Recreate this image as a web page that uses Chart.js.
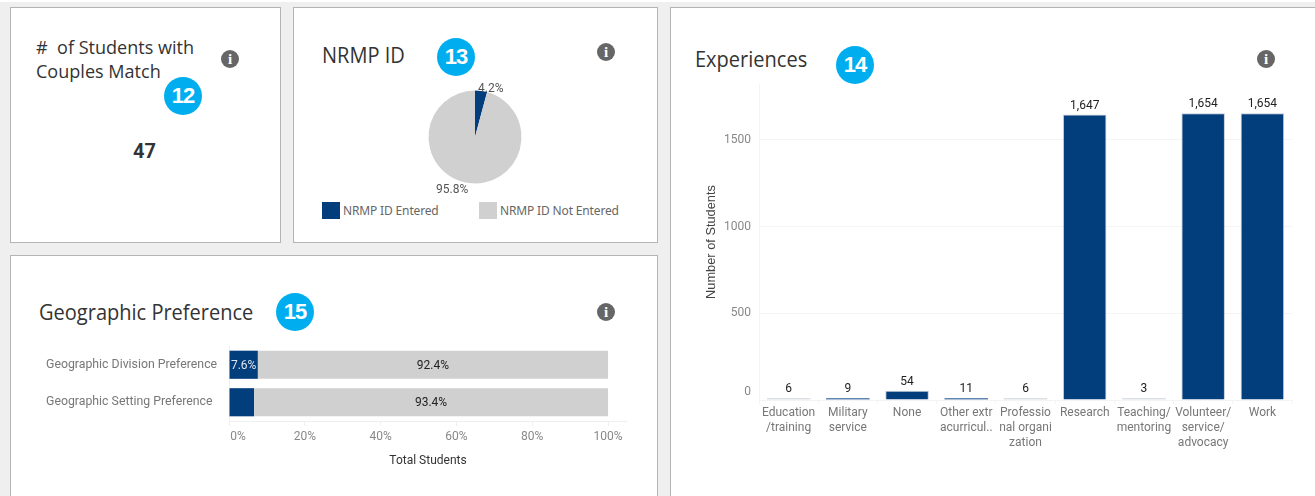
<!DOCTYPE html>
<html>
<head>
<meta charset="utf-8">
<script src="https://cdn.jsdelivr.net/npm/chart.js@4"></script>
<style>
  html, body { margin: 0; padding: 0; background: #fff; }
  #page { position: absolute; left: 0; top: 2px; width: 1315px; height: 494px; background: #efefef; overflow: hidden; }
  .panel { position: absolute; background: #fff; border: 1px solid #b4b4b4; box-sizing: border-box; }
  .title { position: absolute; font-family: "Open Sans", sans-serif; color: #333; white-space: pre; line-height: 24px;
           transform-origin: left top; transform: scaleX(0.91); font-size: 22px; }
  .badge { position: absolute; width: 38px; height: 38px; border-radius: 50%; background: #00aeef; color: #fff;
           font: bold 22px/38px "Liberation Sans", sans-serif; letter-spacing: -1px; text-align: center; }
  .info { position: absolute; width: 18px; height: 18px; border-radius: 50%; background: #666; color: #fff;
          font: bold 15px/18px "Liberation Serif", serif; text-align: center; }
  canvas { position: absolute; }
  .legend { position: absolute; font: 12px/17px "Noto Sans", sans-serif; letter-spacing: -0.15px; color: #666; white-space: nowrap; }
  .legend i { position: absolute; left: -21px; top: 0; width: 18px; height: 17px; }
  #big { position: absolute; font: bold 20px/24px Roboto, sans-serif; color: #333; }
</style>
</head>
<body>
<div id="page">
  <div class="panel" style="left:10px;top:5px;width:271px;height:236px"></div>
  <div class="panel" style="left:293px;top:5px;width:365px;height:236px"></div>
  <div class="panel" style="left:10px;top:253px;width:648px;height:260px"></div>
  <div class="panel" style="left:670px;top:5px;width:660px;height:510px"></div>

  <div class="title" style="left:36px;top:33px;font-size:19px;transform:scaleX(0.95)">#  of Students with
Couples Match</div>
  <div class="title" style="left:322px;top:40px">NRMP ID</div>
  <div class="title" style="left:695px;top:44px">Experiences</div>
  <div class="title" style="left:39px;top:297px">Geographic Preference</div>

  <div class="badge" style="left:164px;top:75px">12</div>
  <div class="badge" style="left:437px;top:36px">13</div>
  <div class="badge" style="left:836px;top:44px">14</div>
  <div class="badge" style="left:276px;top:291px">15</div>

  <div class="info" style="left:221px;top:48px">i</div>
  <div class="info" style="left:597px;top:41px">i</div>
  <div class="info" style="left:1257px;top:48px">i</div>
  <div class="info" style="left:597px;top:301px">i</div>

  <div id="big" style="left:133px;top:137px">47</div>
  <div id="pieLegend"></div>

  <canvas id="pieChart" style="left:375px;top:65px"></canvas>
  <canvas id="geoChart" style="left:46px;top:344px"></canvas>
  <canvas id="expChart" style="left:700px;top:82px"></canvas>
</div>

<script>
const navy = '#023d7c';
const grey = '#d0d0d0';

const pieLabels = ['NRMP ID Entered', 'NRMP ID Not Entered'];
const pieValues = [4.2, 95.8];

const geoCategories = ['Geographic Division Preference', 'Geographic Setting Preference'];
const geoEntered = [7.6, 6.6];
const geoNotEntered = [92.4, 93.4];
const geoEnteredText = ['7.6%', ''];
const geoNotEnteredText = ['92.4%', '93.4%'];

const expCategories = [
  ['Education', '/training'],
  ['Military', 'service'],
  ['None'],
  ['Other extr', 'acurricul..'],
  ['Professio', 'nal organi', 'zation'],
  ['Research'],
  ['Teaching/', 'mentoring'],
  ['Volunteer/', 'service/', 'advocacy'],
  ['Work']
];
const expValues = [6, 9, 54, 11, 6, 1647, 3, 1654, 1654];
const expTicks = [0, 500, 1000, 1500];

function setSize(id, w, h) {
  const c = document.getElementById(id);
  c.width = w;
  c.height = h;
  c.style.width = w + 'px';
  c.style.height = h + 'px';
  return c;
}

// the tiniest bars wash out to a pale sliver in the original
function thinBarColor(v) {
  if (v < 8) return '#dcdfe3';
  if (v < 20) return '#5f86b0';
  return navy;
}

// plot area has to land on exact pixels, so drop the room chart.js keeps for tick labels
function noLabelPadding(scale) {
  scale.paddingTop = 0;
  scale.paddingBottom = 0;
  scale.paddingLeft = 0;
  scale.paddingRight = 0;
}

Chart.defaults.font.family = 'Roboto, sans-serif';
Chart.defaults.font.size = 12;
Chart.defaults.animation = false;
Chart.defaults.responsive = false;
Chart.defaults.plugins.legend.display = false;
Chart.defaults.plugins.tooltip.enabled = false;

// pie labels sit just outside the slices
const pieOutLabels = {
  id: 'pieOutLabels',
  afterDatasetsDraw(chart) {
    const ctx = chart.ctx;
    ctx.save();
    ctx.font = '12px Roboto, sans-serif';
    ctx.fillStyle = '#555';
    ctx.textAlign = 'center';
    ctx.textBaseline = 'middle';
    chart.getDatasetMeta(0).data.forEach((arc, i) => {
      const mid = (arc.startAngle + arc.endAngle) / 2;
      const a = mid + (i === 0 ? 0.18 : 0.28);
      const r = arc.outerRadius + (i === 0 ? 5 : 10.5);
      ctx.fillText(pieValues[i].toFixed(1) + '%', arc.x + Math.cos(a) * r, arc.y + Math.sin(a) * r + 1);
    });
    ctx.restore();
  }
};

const barLabels = {
  id: 'barLabels',
  afterDatasetsDraw(chart) {
    const ctx = chart.ctx;
    ctx.save();
    ctx.font = '12px Roboto, sans-serif';
    ctx.textAlign = 'center';
    ctx.textBaseline = 'middle';
    chart.data.datasets.forEach((ds, d) => {
      chart.getDatasetMeta(d).data.forEach((bar, i) => {
        if (ds.shownText) {
          ctx.fillStyle = ds.textColor;
          const c = bar.getCenterPoint();
          ctx.fillText(ds.shownText[i], c.x, c.y + 1);
        } else {
          ctx.fillStyle = '#222';
          ctx.fillText(ds.data[i].toLocaleString('en-US'), bar.x, bar.y - 9);
        }
      });
    });
    ctx.restore();
  }
};

new Chart(setSize('pieChart', 200, 144), {
  type: 'pie',
  data: {
    labels: pieLabels,
    datasets: [{ data: pieValues, backgroundColor: [navy, grey], borderWidth: 0 }]
  },
  options: { layout: { padding: { top: 23.5, bottom: 27.5 } } },
  plugins: [pieOutLabels]
});

// legend is plain html so the swatches can sit wider apart than the chart legend allows
[322 + 21, 479 + 21].forEach((x, i) => {
  const el = document.createElement('div');
  el.className = 'legend';
  el.style.left = x + 'px';
  el.style.top = '200px';
  el.innerHTML = '<i style="background:' + [navy, grey][i] + '"></i>' + pieLabels[i];
  document.getElementById('pieLegend').appendChild(el);
});

new Chart(setSize('geoChart', 581, 130), {
  type: 'bar',
  data: {
    labels: geoCategories,
    datasets: [
      { data: geoEntered, backgroundColor: navy, shownText: geoEnteredText, textColor: '#dfe6ef',
        barPercentage: 0.75, categoryPercentage: 1 },
      { data: geoNotEntered, backgroundColor: grey, shownText: geoNotEnteredText, textColor: '#222',
        barPercentage: 0.75, categoryPercentage: 1 }
    ]
  },
  options: {
    indexAxis: 'y',
    scales: {
      x: {
        stacked: true,
        min: 0,
        max: 105,
        afterFit(scale) { noLabelPadding(scale); scale.height = 55; },
        border: { color: '#efefef' },
        grid: { drawOnChartArea: false, color: '#efefef', tickLength: 5 },
        ticks: {
          stepSize: 20,
          includeBounds: false,
          padding: 4,
          color: '#888',
          maxRotation: 0,
          // first label is nudged right of its tick in the original
          callback: v => (v === 0 ? '\u00a0\u00a0\u00a0\u00a0\u00a0\u00a0' : '') + v + '%'
        },
        title: { display: true, text: 'Total Students', color: '#333', font: { size: 12 }, padding: { top: 0, bottom: 8 } }
      },
      y: {
        stacked: true,
        afterFit(scale) { noLabelPadding(scale); scale.width = 183; },
        border: { color: '#efefef' },
        grid: { display: false },
        ticks: { crossAlign: 'far', color: '#777', padding: 0, font: { size: 12.3 } }
      }
    }
  },
  plugins: [barLabels]
});

new Chart(setSize('expChart', 600, 390), {
  type: 'bar',
  data: {
    labels: expCategories,
    datasets: [{
      data: expValues,
      backgroundColor: expValues.map(thinBarColor),
      borderColor: '#c3cbd5',
      borderWidth: ctx => (expValues[ctx.dataIndex] < 50 ? 0 : 1),
      minBarLength: 2,
      barPercentage: 0.735,
      categoryPercentage: 1
    }]
  },
  options: {
    layout: { padding: { right: 8 } },
    scales: {
      x: {
        afterFit(scale) { noLabelPadding(scale); scale.height = 74; },
        border: { color: '#f4f4f4' },
        grid: { drawOnChartArea: false, color: '#f4f4f4', tickLength: 4 },
        ticks: { color: '#777', padding: 1, autoSkip: false, maxRotation: 0, font: { lineHeight: 1.28 } }
      },
      y: {
        min: 0,
        max: 1823,
        afterFit(scale) { noLabelPadding(scale); scale.width = 59; },
        afterBuildTicks(scale) { scale.ticks = expTicks.map(value => ({ value })); },
        border: { color: '#f4f4f4' },
        grid: { color: '#f4f4f4', drawTicks: false },
        ticks: {
          padding: 8,
          color: '#888',
          font: { lineHeight: 1.33 },
          // zero label rides above the baseline in the original
          callback: v => (v === 0 ? ['0', ''] : String(v))
        },
        title: {
          display: true,
          text: 'Number of Students',
          color: '#444',
          font: { family: '"Liberation Sans", sans-serif', size: 12.8 },
          padding: { top: 4, bottom: 0 }
        }
      }
    }
  },
  plugins: [barLabels]
});
</script>
</body>
</html>
